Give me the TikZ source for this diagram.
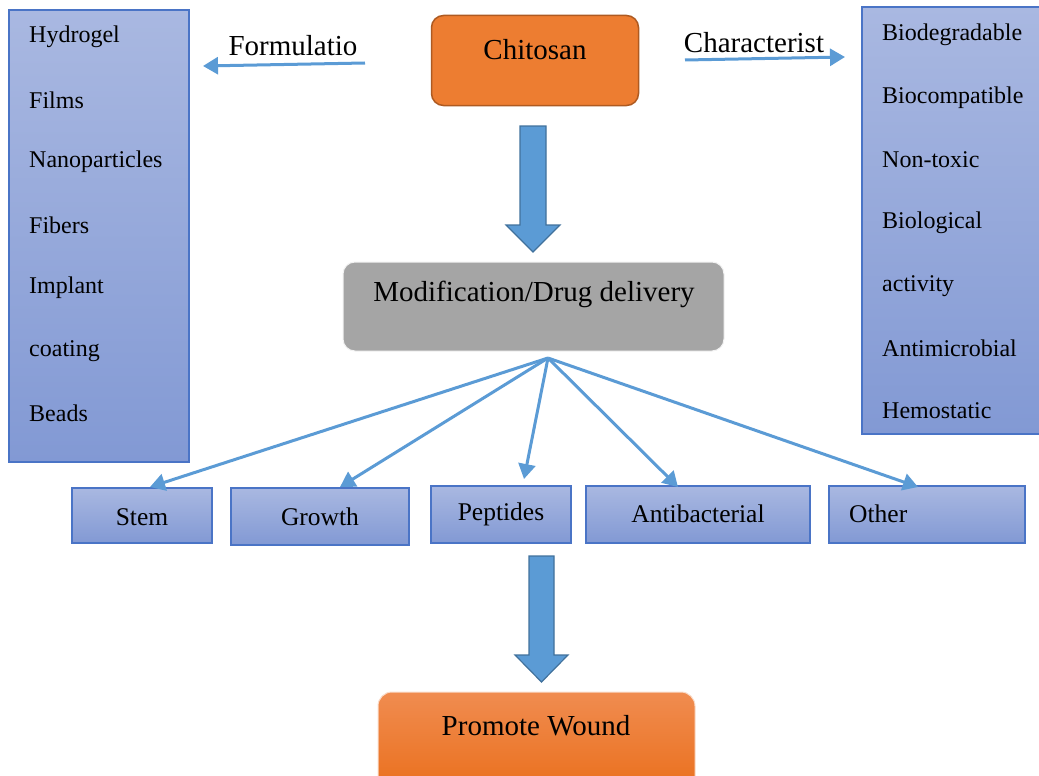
\documentclass[tikz,border=0pt]{standalone}
\usepackage{fontspec}
\setmainfont{Liberation Serif}
\usetikzlibrary{arrows.meta}
\definecolor{listtop}{HTML}{A9B8E1}
\definecolor{listbot}{HTML}{8299D4}
\definecolor{listborder}{HTML}{4A74C6}
\definecolor{conn}{HTML}{5B9BD5}
\definecolor{connborder}{HTML}{41719C}
\definecolor{chit}{HTML}{ED7D31}
\definecolor{chitborder}{HTML}{AE5A21}
\definecolor{modgray}{HTML}{A5A5A5}
\definecolor{promtop}{HTML}{F08C50}
\definecolor{prombot}{HTML}{EA6F1C}
\tikzset{
  listbox/.style={draw=listborder, line width=1.2pt, top color=listtop, bottom color=listbot, inner sep=0pt},
  listtext/.style={anchor=west, inner sep=0pt, font=\fontsize{24}{28}\selectfont},
  catbox/.style={draw=listborder, line width=1.2pt, top color=listtop, bottom color=listbot, inner sep=0pt},
  cattext/.style={font=\fontsize{25.5}{30}\selectfont, inner sep=0pt},
  maintext/.style={font=\fontsize{29}{34}\selectfont, inner sep=0pt},
  thin/.style={draw=conn, line width=3pt, -{Triangle[length=15pt,width=17pt]}},
  blockarrow/.style={fill=conn, draw=connborder, line width=1.2pt},
}
\begin{document}
\begin{tikzpicture}[x=1pt,y=-1pt]
\useasboundingbox (0,0) rectangle (1039,776);
% left list
\node[listbox, minimum width=180pt, minimum height=452pt] (form) at (99,236) {};
\node[listtext] (h1) at (29,37) {Hydrogel};
\node[listtext] (h2) at (29,100) {Films};
\node[listtext] (h3) at (29,162) {Nanoparticles};
\node[listtext] (h4) at (29,225) {Fibers};
\node[listtext] (h5) at (29,288) {Implant};
\node[listtext] (h6) at (29,351) {coating};
\node[listtext] (h7) at (29,413) {Beads};
% right list
\node[listbox, minimum width=180pt, minimum height=427pt] (char) at (952,220.5) {};
\node[listtext] (c1) at (882,35) {Biodegradable};
\node[listtext] (c2) at (882,98) {Biocompatible};
\node[listtext] (c3) at (882,160) {Non-toxic};
\node[listtext] (c4) at (882,223) {Biological};
\node[listtext] (c5) at (882,286) {activity};
\node[listtext] (c6) at (882,348) {Antimicrobial};
\node[listtext] (c7) at (882,411) {Hemostatic};
% chitosan
\node[draw=chitborder, fill=chit, line width=1.5pt, rounded corners=12pt, minimum width=207pt, minimum height=90pt] (chitosan) at (535,60.5) {};
\node[maintext] (chitxt) at (535,50) {Chitosan};
% labels and side arrows
\node[maintext] (formlab) at (293,46) {Formulatio};
\node[maintext] (charlab) at (754,43) {Characterist};
\coordinate (fa) at (365,63);
\coordinate (fb) at (203,66);
\draw[thin] (fa) -- (fb);
\coordinate (ca) at (685,60);
\coordinate (cb) at (845,57);
\draw[thin] (ca) -- (cb);
% block arrow 1
\draw[blockarrow] (520,126) -- (546,126) -- (546,225) -- (560,225) -- (533,252) -- (506,225) -- (520,225) -- cycle;
% modification
\node[fill=modgray, draw=white!85!modgray, line width=1pt, rounded corners=12pt, minimum width=381pt, minimum height=89pt] (mod) at (533.5,306.5) {};
\node[maintext] (modtxt) at (534,294) {Modification/Drug delivery};
\coordinate (hub) at (548,358);
% category boxes
\node[catbox, minimum width=140pt, minimum height=55pt] (stem) at (142,515.5) {};
\node[cattext] (stemt) at (142,517) {Stem};
\node[catbox, minimum width=178pt, minimum height=57pt] (growth) at (320,516.5) {};
\node[cattext] (growtht) at (320,517) {Growth};
\node[catbox, minimum width=140pt, minimum height=57pt] (pep) at (501,514.5) {};
\node[cattext] (pept) at (501,514) {Peptides};
\node[catbox, minimum width=224pt, minimum height=57pt] (anti) at (698,514.5) {};
\node[cattext] (antit) at (698,514) {Antibacterial};
\node[catbox, minimum width=196pt, minimum height=57pt] (other) at (927,514.5) {};
\node[cattext, anchor=west] (othert) at (849,514) {Other};
% fan arrows
\coordinate (tstem) at (150,487);
\coordinate (tgrowth) at (340,487);
\coordinate (tpep) at (524,479);
\coordinate (tanti) at (678,487);
\coordinate (tother) at (918,487);
\draw[thin] (hub) -- (tstem);
\draw[thin] (hub) -- (tgrowth);
\draw[thin] (hub) -- (tpep);
\draw[thin] (hub) -- (tanti);
\draw[thin] (hub) -- (tother);
% block arrow 2
\draw[blockarrow] (529,556) -- (554,556) -- (554,655) -- (568,655) -- (541.5,682) -- (515,655) -- (529,655) -- cycle;
% promote wound
\node[top color=promtop, bottom color=prombot, draw=white!70!promtop, line width=1pt, rounded corners=14pt, minimum width=317pt, minimum height=100pt] (prom) at (536.5,742) {};
\node[maintext] (promtxt) at (536,726) {Promote Wound};
\end{tikzpicture}
\end{document}
